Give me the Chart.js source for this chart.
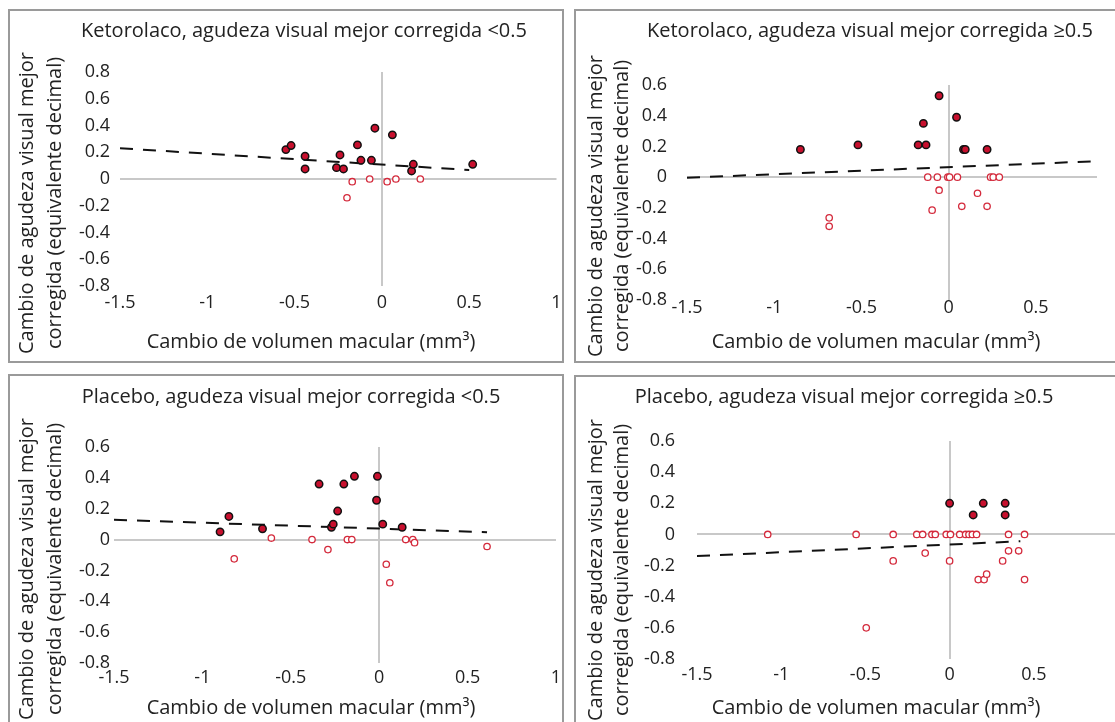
<!DOCTYPE html>
<html>
<head>
<meta charset="utf-8">
<script src="https://cdn.jsdelivr.net/npm/chart.js@4.4.1/dist/chart.umd.min.js"></script>
<style>
  html, body { margin: 0; padding: 0; background: #fff; width: 1115px; height: 722px; overflow: hidden; position: relative; }
  .box { position: absolute; border: 2px solid #9a9a9a; box-sizing: border-box; }
  canvas { position: absolute; }
</style>
</head>
<body>
<div class="box" style="left:8px;top:9px;width:556px;height:354px"></div>
<div class="box" style="left:574px;top:9px;width:600px;height:354px"></div>
<div class="box" style="left:8px;top:374px;width:556px;height:400px"></div>
<div class="box" style="left:574px;top:375px;width:600px;height:400px"></div>
<canvas id="c1"></canvas>
<canvas id="c2"></canvas>
<canvas id="c3"></canvas>
<canvas id="c4"></canvas>
<script>
// ticks
const xTicksLeft = [-1.5, -1, -0.5, 0, 0.5, 1];
const xTicksRight = [-1.5, -1, -0.5, 0, 0.5];
const yTicks08 = [0.8, 0.6, 0.4, 0.2, 0, -0.2, -0.4, -0.6, -0.8];
const yTicks06 = [0.6, 0.4, 0.2, 0, -0.2, -0.4, -0.6, -0.8];

// Ketorolaco, AVMC <0.5
const k1FillX = [-0.55, -0.52, -0.44, -0.44, -0.26, -0.24, -0.22, -0.14, -0.12, -0.06, -0.04, 0.06, 0.17, 0.18, 0.52];
const k1FillY = [0.22, 0.25, 0.17, 0.075, 0.085, 0.18, 0.075, 0.255, 0.14, 0.14, 0.38, 0.33, 0.06, 0.11, 0.11];
const k1OpenX = [-0.17, -0.2, -0.07, 0.03, 0.08, 0.22];
const k1OpenY = [-0.02, -0.14, 0, -0.02, 0, 0];
const k1TrendX = [-1.5, 0.5];
const k1TrendY = [0.23, 0.067];

// Ketorolaco, AVMC >=0.5
const k2FillX = [-0.85, -0.52, -0.175, -0.13, -0.145, -0.055, 0.045, 0.085, 0.095, 0.22];
const k2FillY = [0.18, 0.21, 0.21, 0.21, 0.35, 0.53, 0.39, 0.18, 0.18, 0.18];
const k2OpenX = [-0.12, -0.065, -0.005, 0.005, 0.05, 0.24, 0.255, 0.29, -0.055, -0.095, 0.075, 0.165, 0.22, -0.685, -0.685];
const k2OpenY = [0, 0, 0, 0, 0, 0, 0, 0, -0.085, -0.215, -0.19, -0.105, -0.19, -0.265, -0.32];
const k2TrendX = [-1.5, 0.85];
const k2TrendY = [-0.004, 0.104];

// Placebo, AVMC <0.5
const p1FillX = [-0.9, -0.85, -0.66, -0.34, -0.27, -0.26, -0.235, -0.2, -0.14, -0.015, -0.01, 0.02, 0.13];
const p1FillY = [0.05, 0.15, 0.07, 0.36, 0.08, 0.1, 0.185, 0.36, 0.41, 0.255, 0.41, 0.1, 0.08];
const p1OpenX = [-0.82, -0.61, -0.38, -0.29, -0.18, -0.155, 0.04, 0.06, 0.15, 0.19, 0.2, 0.61];
const p1OpenY = [-0.125, 0.01, 0, -0.065, 0, 0, -0.16, -0.28, 0, 0, -0.02, -0.045];
const p1TrendX = [-1.5, 0.61];
const p1TrendY = [0.128, 0.048];

// Placebo, AVMC >=0.5
const p2FillX = [0, 0.14, 0.2, 0.33, 0.33];
const p2FillY = [0.2, 0.125, 0.2, 0.2, 0.125];
const p2OpenX = [-1.08, -0.555, -0.335, -0.195, -0.16, -0.105, -0.085, -0.02, 0.005, 0.06, 0.095, 0.115, 0.135, 0.16, 0.35, 0.445,
                 -0.335, -0.145, 0, 0.315, 0.35, 0.41, 0.17, 0.205, 0.22, 0.445, -0.495];
const p2OpenY = [0, 0, 0, 0, 0, 0, 0, 0, 0, 0, 0, 0, 0, 0, 0, 0,
                 -0.17, -0.12, -0.17, -0.17, -0.105, -0.105, -0.29, -0.29, -0.255, -0.29, -0.6];
const p2TrendX = [-1.5, 0.42];
const p2TrendY = [-0.139, -0.044];

const fillRed = "#c8102e";
const openRed = "#d42a3c";
const axisGray = "#c8c8c8";
const textColor = "#222";
const fontFamily = "'Open Sans', Lato, sans-serif";

const yTitle = ["Cambio de agudeza visual mejor", "corregida (equivalente decimal)"];
const xTitle = "Cambio de volumen macular (mm³)";

function pts(xs, ys) {
  return xs.map((x, i) => ({ x: x, y: ys[i] }));
}

// titles drawn at page positions
const panelText = {
  id: "panelText",
  afterDraw(chart, args, o) {
    const ctx = chart.ctx;
    const ox = o.ox, oy = o.oy;
    ctx.save();
    ctx.fillStyle = textColor;
    ctx.textAlign = "center";
    ctx.textBaseline = "middle";
    ctx.font = "20px " + fontFamily;
    ctx.fillText(o.title, o.titleX - ox, o.titleY - oy);
    ctx.fillText(xTitle, o.xtX - ox, o.xtY - oy);
    yTitle.forEach((t, i) => {
      ctx.save();
      ctx.translate(o.ytX[i] - ox, o.ytY - oy);
      ctx.rotate(-Math.PI / 2);
      ctx.fillText(t, 0, 0);
      ctx.restore();
    });
    ctx.restore();
  }
};

function makePanel(p) {
  const cv = document.getElementById(p.id);
  cv.width = p.box.w;
  cv.height = p.box.h;
  cv.style.left = p.box.x + "px";
  cv.style.top = p.box.y + "px";
  const a = p.area;
  const tickFont = { family: fontFamily, size: 18 };
  const zeroGrid = {
    color: (c) => (c.tick && c.tick.value === 0 ? axisGray : "transparent"),
    lineWidth: 2,
    drawTicks: false
  };

  new Chart(cv, {
    type: "scatter",
    data: {
      datasets: [
        { data: pts(p.openX, p.openY), pointRadius: 3.2, pointBorderWidth: 1.3,
          borderColor: openRed, backgroundColor: "#fff" },
        { data: pts(p.fillX, p.fillY), pointRadius: 3.7, pointBorderWidth: 1.5,
          borderColor: "#111", backgroundColor: fillRed },
        { type: "line", data: pts(p.trendX, p.trendY), borderColor: "#111", borderWidth: 2,
          borderDash: [13, 10], pointRadius: 0, fill: false }
      ]
    },
    options: {
      responsive: false,
      animation: false,
      events: [],
      layout: { padding: { left: 0, bottom: 0, top: a.top - p.box.y, right: p.box.x + p.box.w - a.right } },
      plugins: {
        legend: { display: false },
        tooltip: { enabled: false },
        panelText: Object.assign({ ox: p.box.x, oy: p.box.y }, p.text)
      },
      scales: {
        x: {
          type: "linear",
          min: p.xMin, max: p.xMax,
          afterBuildTicks: (s) => { s.ticks = p.xTicks.map((v) => ({ value: v })); },
          afterFit: (s) => { s.height = p.box.y + p.box.h - a.bottom; s.paddingLeft = 0; s.paddingRight = 0; },
          grid: zeroGrid,
          border: { display: false },
          ticks: { padding: p.xPad, color: textColor, font: tickFont, maxRotation: 0, autoSkip: false,
                   callback: (v) => String(v) }
        },
        y: {
          type: "linear",
          min: p.yMin, max: p.yMax,
          afterBuildTicks: (s) => { s.ticks = p.yTicks.map((v) => ({ value: v })); },
          afterFit: (s) => { s.width = a.left - p.box.x; s.paddingTop = 0; s.paddingBottom = 0; },
          grid: zeroGrid,
          border: { display: false },
          ticks: { padding: p.yPad, color: textColor, font: tickFont, autoSkip: false,
                   callback: (v) => String(v) }
        }
      }
    },
    plugins: [panelText]
  });
}

makePanel({
  id: "c1", box: { x: 10, y: 11, w: 552, h: 350 }, area: { left: 120, right: 558, top: 72, bottom: 286 },
  xMin: -1.5, xMax: 1, yMin: -0.8, yMax: 0.8, xTicks: xTicksLeft, yTicks: yTicks08, xPad: 6, yPad: 10,
  fillX: k1FillX, fillY: k1FillY, openX: k1OpenX, openY: k1OpenY, trendX: k1TrendX, trendY: k1TrendY,
  text: { title: "Ketorolaco, agudeza visual mejor corregida <0.5", titleX: 304, titleY: 31,
          xtX: 311, xtY: 342, ytX: [27, 55], ytY: 203 }
});

makePanel({
  id: "c2", box: { x: 576, y: 11, w: 560, h: 350 }, area: { left: 687, right: 1097, top: 85, bottom: 300 },
  xMin: -1.5, xMax: 0.85, yMin: -0.8, yMax: 0.6, xTicks: xTicksRight, yTicks: yTicks06, xPad: -3, yPad: 20,
  fillX: k2FillX, fillY: k2FillY, openX: k2OpenX, openY: k2OpenY, trendX: k2TrendX, trendY: k2TrendY,
  text: { title: "Ketorolaco, agudeza visual mejor corregida ≥0.5", titleX: 870, titleY: 31,
          xtX: 876, xtY: 342, ytX: [596, 622], ytY: 206 }
});

makePanel({
  id: "c3", box: { x: 10, y: 376, w: 552, h: 346 }, area: { left: 114, right: 556, top: 447, bottom: 663 },
  xMin: -1.5, xMax: 1, yMin: -0.8, yMax: 0.6, xTicks: xTicksLeft, yTicks: yTicks06, xPad: 4, yPad: 4,
  fillX: p1FillX, fillY: p1FillY, openX: p1OpenX, openY: p1OpenY, trendX: p1TrendX, trendY: p1TrendY,
  text: { title: "Placebo, agudeza visual mejor corregida <0.5", titleX: 291, titleY: 397,
          xtX: 311, xtY: 708, ytX: [27, 55], ytY: 569 }
});

makePanel({
  id: "c4", box: { x: 576, y: 377, w: 560, h: 345 }, area: { left: 697, right: 1118, top: 441, bottom: 659 },
  xMin: -1.5, xMax: 1, yMin: -0.8, yMax: 0.6, xTicks: xTicksRight, yTicks: yTicks06, xPad: 5, yPad: 22,
  fillX: p2FillX, fillY: p2FillY, openX: p2OpenX, openY: p2OpenY, trendX: p2TrendX, trendY: p2TrendY,
  text: { title: "Placebo, agudeza visual mejor corregida ≥0.5", titleX: 844, titleY: 397,
          xtX: 876, xtY: 708, ytX: [596, 622], ytY: 570 }
});
</script>
</body>
</html>
